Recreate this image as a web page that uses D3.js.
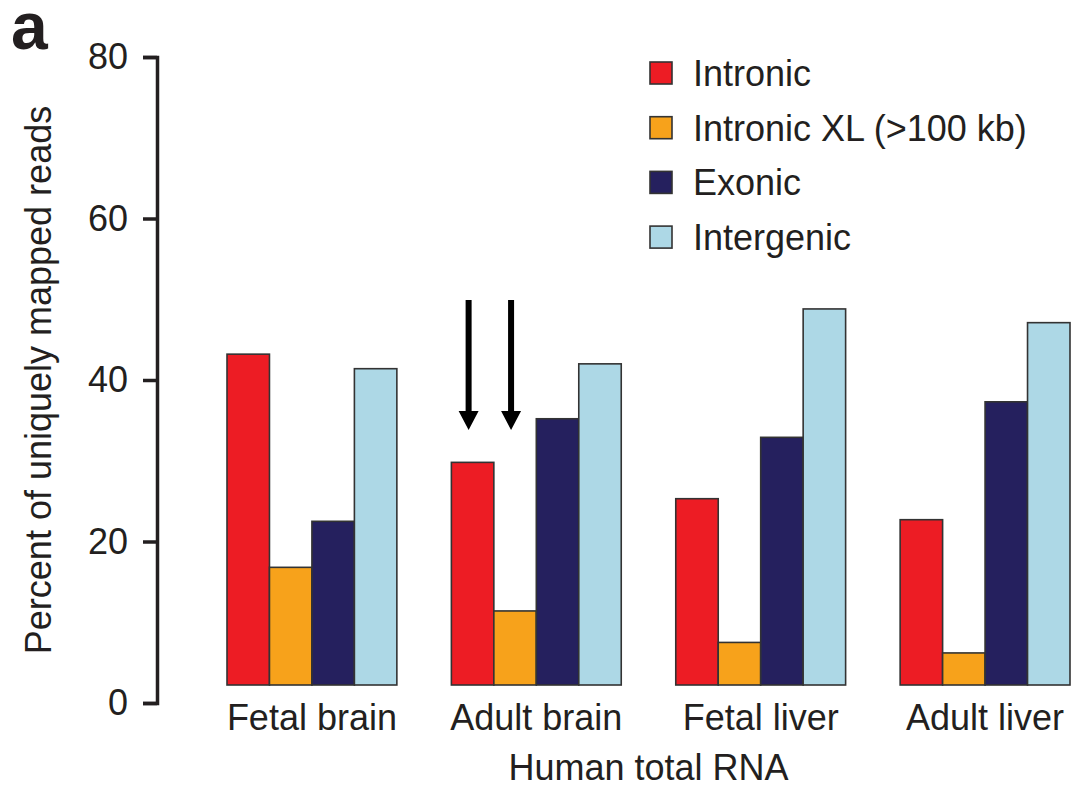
<!DOCTYPE html>
<html>
<head>
<meta charset="utf-8">
<script src="https://cdn.jsdelivr.net/npm/d3@7"></script>
<style>
  html, body { margin: 0; padding: 0; background: #fff; }
  svg { display: block; font-family: "Liberation Sans", Arial, Helvetica, sans-serif; }
</style>
</head>
<body>
<svg id="chart" width="1073" height="788"></svg>
<script>
// Percent of uniquely mapped reads per sample, by genomic region
const samples = ["Fetal brain", "Adult brain", "Fetal liver", "Adult liver"];
const regions = ["Intronic", "Intronic XL (>100 kb)", "Exonic", "Intergenic"];
const intronic   = [43.2, 29.8, 25.3, 22.7];
const intronicXL = [16.8, 11.4, 7.5, 6.2];
const exonic     = [22.5, 35.2, 32.9, 37.3];
const intergenic = [41.4, 42.0, 48.8, 47.1];
const regionColors = ["#ed1c24", "#f7a21b", "#25205e", "#add8e6"];
const yTicks = [0, 20, 40, 60, 80];
const yTitle = "Percent of uniquely mapped reads";
const xTitle = "Human total RNA";
const panelLabel = "a";
// Arrows above the Adult brain intronic bars (values in percent)
const arrows = [
  { sample: "Adult brain", region: "Intronic", from: 49.9, to: 33.8 },
  { sample: "Adult brain", region: "Intronic XL (>100 kb)", from: 49.9, to: 33.8 }
];

const seriesValues = [intronic, intronicXL, exonic, intergenic];
const table = samples.map((s, i) => ({
  sample: s,
  values: regions.map((r, j) => ({ region: r, value: seriesValues[j][i] }))
}));

const ink = "#231f20";
const svg = d3.select("#chart");

const y = d3.scaleLinear().domain([0, 80]).range([703, 57]);
const barBase = y(0) - 18;   // bars sit slightly above the axis zero

const x0 = d3.scaleBand().domain(samples).range([227, 1070]).paddingInner(0.243).paddingOuter(0);
const x1 = d3.scaleBand().domain(regions).range([0, x0.bandwidth()]).padding(0);
const color = d3.scaleOrdinal().domain(regions).range(regionColors);

// Bars
const groups = svg.append("g").selectAll("g")
  .data(table).join("g")
  .attr("transform", d => `translate(${x0(d.sample)},0)`);

groups.selectAll("rect")
  .data(d => d.values).join("rect")
  .attr("x", d => x1(d.region))
  .attr("y", d => y(d.value))
  .attr("width", x1.bandwidth())
  .attr("height", d => barBase - y(d.value))
  .attr("fill", d => color(d.region))
  .attr("stroke", "#333")
  .attr("stroke-width", 1.6);

// Y axis
const yAxis = svg.append("g")
  .attr("transform", "translate(157,0)")
  .call(d3.axisLeft(y).tickValues(yTicks).tickSize(14).tickPadding(15));
yAxis.select(".domain").attr("stroke", ink).attr("stroke-width", 3.5);
yAxis.selectAll(".tick line").attr("stroke", ink).attr("stroke-width", 3.5);
yAxis.selectAll(".tick text")
  .attr("fill", ink).attr("font-size", 36)
  .attr("font-family", "'Liberation Sans', Arial, sans-serif");

// Category labels
svg.append("g").selectAll("text")
  .data(samples).join("text")
  .attr("x", d => x0(d) + x0.bandwidth() / 2)
  .attr("y", 730)
  .attr("text-anchor", "middle")
  .attr("font-size", 36)
  .attr("fill", ink)
  .text(d => d);

// Axis titles
svg.append("text")
  .attr("x", (x0.range()[0] + x0.range()[1]) / 2)
  .attr("y", 780)
  .attr("text-anchor", "middle")
  .attr("font-size", 36)
  .attr("fill", ink)
  .text(xTitle);

svg.append("text")
  .attr("transform", "translate(51,380) rotate(-90)")
  .attr("text-anchor", "middle")
  .attr("font-size", 36)
  .attr("fill", ink)
  .text(yTitle);

// Panel label
svg.append("text")
  .attr("x", 11).attr("y", 49)
  .attr("font-size", 66)
  .attr("font-weight", "bold")
  .attr("fill", ink)
  .text(panelLabel);

// Legend
const legend = svg.append("g").selectAll("g")
  .data(regions).join("g")
  .attr("transform", (d, i) => `translate(650,${73 + i * 54.7})`);
legend.append("rect")
  .attr("x", 0).attr("y", -11)
  .attr("width", 22).attr("height", 22)
  .attr("fill", d => color(d))
  .attr("stroke", "#333").attr("stroke-width", 1.6);
legend.append("text")
  .attr("x", 43).attr("y", 13)
  .attr("font-size", 36)
  .attr("fill", ink)
  .text(d => d);

// Arrows
const headLen = 19, headHalf = 10, shaftHalf = 3;
svg.append("g").selectAll("path")
  .data(arrows).join("path")
  .attr("fill", "#000")
  .attr("d", d => {
    const cx = x0(d.sample) + x1(d.region) + x1.bandwidth() / 2 - 4;
    const top = y(d.from), tip = y(d.to), hb = tip - headLen;
    return `M${cx - shaftHalf},${top} H${cx + shaftHalf} V${hb} H${cx + headHalf} L${cx},${tip} L${cx - headHalf},${hb} H${cx - shaftHalf} Z`;
  });
</script>
</body>
</html>
